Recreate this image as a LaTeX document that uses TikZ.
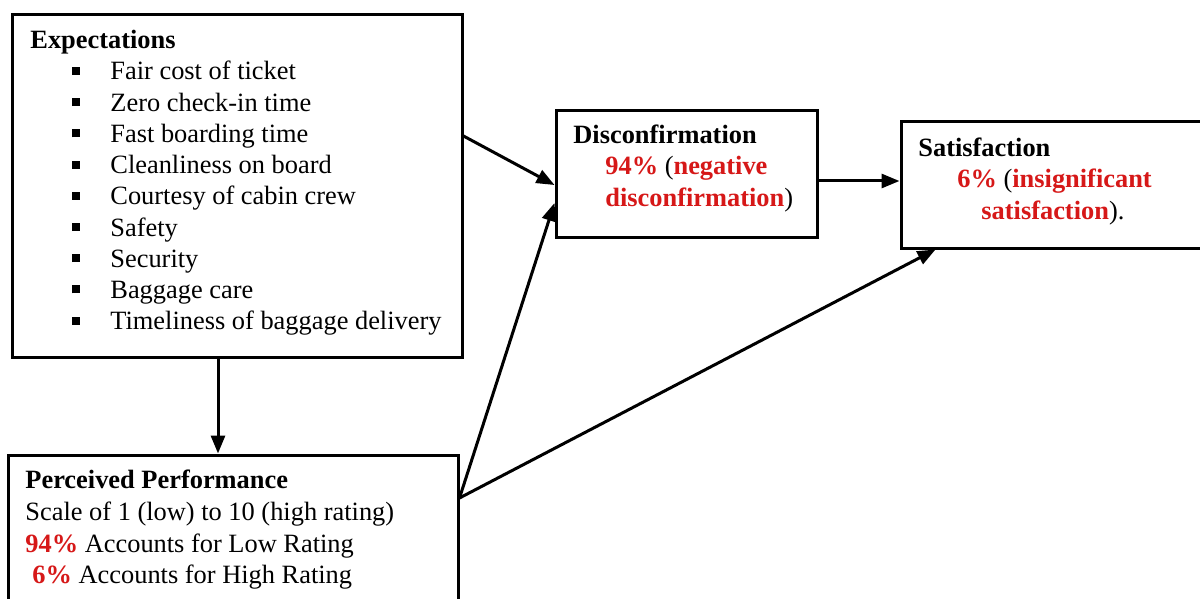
\documentclass[tikz,border=0pt]{standalone}
\usepackage{fontspec}
\setmainfont{Liberation Serif}
\usetikzlibrary{arrows.meta,calc}
\definecolor{hired}{RGB}{214,24,24}
\tikzset{
  box/.style={draw=black, line width=1.5pt, inner sep=0pt, fill=none},
  txt/.style={anchor=base west, inner sep=0pt, font=\fontsize{13.2pt}{15pt}\selectfont},
  ttl/.style={anchor=base west, inner sep=0pt, font=\fontsize{13.2pt}{15pt}\selectfont\bfseries},
  conn/.style={line width=1.5pt, -{Triangle[length=9pt,width=7pt]}},
}
\newcommand{\bul}{\rlap{\hspace{-19pt}\rule[2.5pt]{4pt}{4pt}}}
\newcommand{\rd}[1]{\textcolor{hired}{\bfseries #1}}
\begin{document}
\begin{tikzpicture}[x=0.5pt,y=-0.5pt]
\useasboundingbox (0,0) rectangle (1200,599);
% boxes
\node[box, minimum width=225pt, minimum height=171pt] (exp) at (237,186) {};
\node[box, minimum width=130.5pt, minimum height=63pt] (disc) at (686.5,174) {};
\node[box, minimum width=152.5pt, minimum height=63pt] (sat) at (1053.5,185) {};
\node[box, minimum width=225pt, minimum height=80pt] (perc) at (233,535) {};
% expectations text
\node[ttl] (expt) at (30,49) {Expectations};
\node[txt] (e1) at (110,80) {\bul Fair cost of ticket};
\node[txt] (e2) at (110,111.2) {\bul Zero check-in time};
\node[txt] (e3) at (110,142.4) {\bul Fast boarding time};
\node[txt] (e4) at (110,173.6) {\bul Cleanliness on board};
\node[txt] (e5) at (110,204.8) {\bul Courtesy of cabin crew};
\node[txt] (e6) at (110,236) {\bul Safety};
\node[txt] (e7) at (110,267.2) {\bul Security};
\node[txt] (e8) at (110,298.4) {\bul Baggage care};
\node[txt] (e9) at (110,329.6) {\bul Timeliness of baggage delivery};
% disconfirmation text
\node[ttl] (disct) at (573,144) {Disconfirmation};
\node[txt] (d1) at (605,175) {\rd{94\%} (\rd{negative}};
\node[txt] (d2) at (605,206) {\rd{disconfirmation})};
% satisfaction text
\node[ttl] (satt) at (918,156) {Satisfaction};
\node[txt] (s1) at (957,188) {\rd{6\%} (\rd{insignificant}};
\node[txt] (s2) at (981,220) {\rd{satisfaction}).};
% perceived text
\node[ttl] (perct) at (25,488) {Perceived Performance};
\node[txt] (p1) at (25,520) {Scale of 1 (low) to 10 (high rating)};
\node[txt] (p2) at (25,552) {\rd{94\%} Accounts for Low Rating};
\node[txt] (p3) at (32,583) {\rd{6\%} Accounts for High Rating};
% connectors
\draw[conn] ($(exp.east)+(0,-50)$) -- ($(disc.west)+(0,11)$);
\draw[conn] ($(perc.east)+(0,-37)$) -- ($(disc.west)+(0,29)$);
\draw[conn] ($(perc.east)+(0,-37)$) -- ($(sat.south)+(-118,0)$);
\draw[conn] ($(disc.east)+(0,7)$) -- ($(sat.west)+(0,-4)$);
\draw[conn] ($(exp.south)+(-19,0)$) -- ($(perc.north)+(-15,0)$);
\end{tikzpicture}
\end{document}
